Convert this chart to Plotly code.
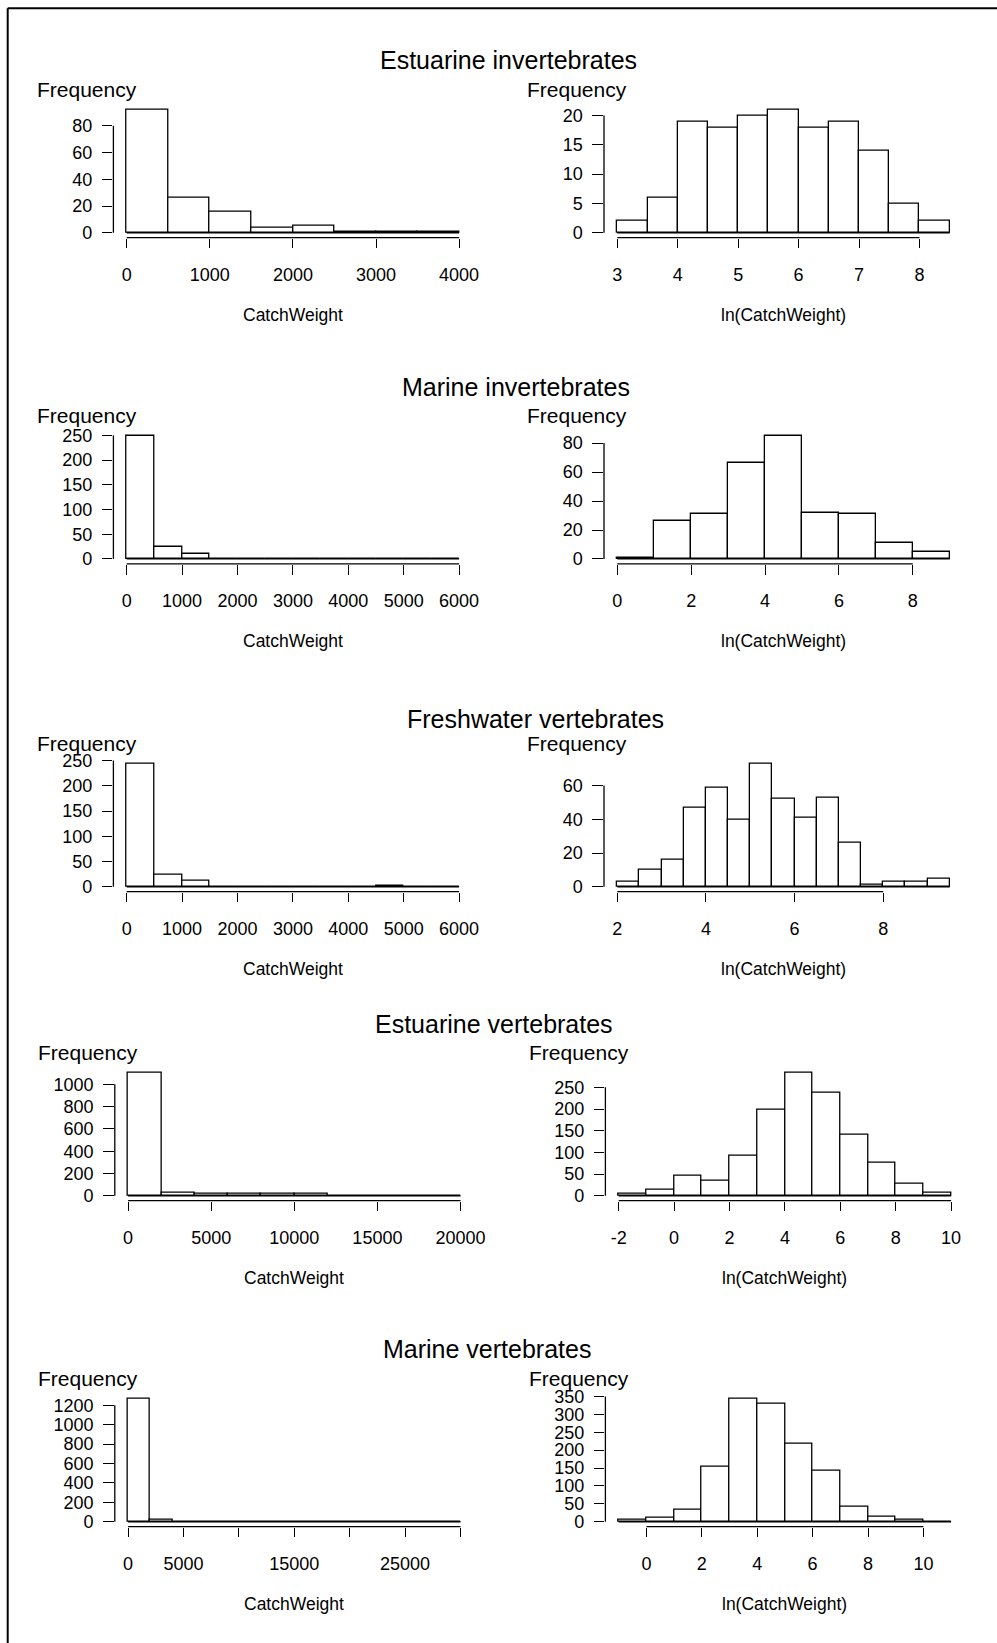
import plotly.graph_objects as go

# ---------------- data ----------------
titles = ["Estuarine invertebrates", "Marine invertebrates", "Freshwater vertebrates",
          "Estuarine vertebrates", "Marine vertebrates"]

# raw CatchWeight histograms (bin breaks and counts)
raw_breaks = [
    [0, 500, 1000, 1500, 2000, 2500, 3000, 3500, 4000],
    [0, 500, 1000, 1500, 2000, 2500, 3000, 3500, 4000, 4500, 5000, 5500, 6000],
    [0, 500, 1000, 1500, 2000, 2500, 3000, 3500, 4000, 4500, 5000, 5500, 6000],
    [0, 2000, 4000, 6000, 8000, 10000, 12000, 14000, 16000, 18000, 20000],
    [0, 2000, 4000, 6000, 8000, 10000, 12000, 14000, 16000, 18000, 20000,
     22000, 24000, 26000, 28000, 30000],
]
raw_counts = [
    [92, 26, 16, 4, 5, 1, 1, 1],
    [249, 24, 11, 1, 0, 0, 0, 0, 0, 0, 0, 1],
    [244, 24, 13, 0, 0, 0, 0, 0, 0, 3, 0, 0],
    [1105, 30, 15, 15, 15, 15, 2, 2, 1, 1],
    [1268, 21, 2, 1, 1, 0, 0, 0, 0, 0, 0, 0, 0, 0, 1],
]
raw_xticks = [
    [0, 1000, 2000, 3000, 4000],
    [0, 1000, 2000, 3000, 4000, 5000, 6000],
    [0, 1000, 2000, 3000, 4000, 5000, 6000],
    [0, 5000, 10000, 15000, 20000],
    [0, 5000, 10000, 15000, 20000, 25000, 30000],
]
raw_xticklabels = [
    ["0", "1000", "2000", "3000", "4000"],
    ["0", "1000", "2000", "3000", "4000", "5000", "6000"],
    ["0", "1000", "2000", "3000", "4000", "5000", "6000"],
    ["0", "5000", "10000", "15000", "20000"],
    ["0", "5000", "", "15000", "", "25000", ""],
]
raw_yticks = [
    [0, 20, 40, 60, 80],
    [0, 50, 100, 150, 200, 250],
    [0, 50, 100, 150, 200, 250],
    [0, 200, 400, 600, 800, 1000],
    [0, 200, 400, 600, 800, 1000, 1200],
]

# ln(CatchWeight) histograms
log_breaks = [
    [3, 3.5, 4, 4.5, 5, 5.5, 6, 6.5, 7, 7.5, 8, 8.5],
    [0, 1, 2, 3, 4, 5, 6, 7, 8, 9],
    [2, 2.5, 3, 3.5, 4, 4.5, 5, 5.5, 6, 6.5, 7, 7.5, 8, 8.5, 9, 9.5],
    [-2, -1, 0, 1, 2, 3, 4, 5, 6, 7, 8, 9, 10],
    [-1, 0, 1, 2, 3, 4, 5, 6, 7, 8, 9, 10, 11],
]
log_counts = [
    [2, 6, 19, 18, 20, 21, 18, 19, 14, 5, 2],
    [1, 26, 31, 66, 85, 32, 31, 11, 5],
    [3, 10, 16, 47, 59, 40, 73, 52, 41, 53, 26, 1, 3, 3, 5],
    [4, 15, 47, 34, 92, 199, 284, 238, 142, 77, 27, 8],
    [5, 10, 34, 153, 344, 330, 218, 142, 43, 15, 5, 1],
]
log_xticks = [
    [3, 4, 5, 6, 7, 8],
    [0, 2, 4, 6, 8],
    [2, 4, 6, 8],
    [-2, 0, 2, 4, 6, 8, 10],
    [0, 2, 4, 6, 8, 10],
]
log_yticks = [
    [0, 5, 10, 15, 20],
    [0, 20, 40, 60, 80],
    [0, 20, 40, 60],
    [0, 50, 100, 150, 200, 250],
    [0, 50, 100, 150, 200, 250, 300, 350],
]

raw_xlabel = "CatchWeight"
log_xlabel = "ln(CatchWeight)"
ylabel = "Frequency"

# ---------------- layout constants (pixels) ----------------
W, H = 997, 1643
row_bottom = [237.7, 563.9, 891.7, 1200.7, 1526.7]
row_shift = [0, 0, 0, 1.4, 1.4]
col_left = [113.4, 604.0]
plot_w, plot_h = 359.0, 133.0
title_pos = [(508.7, 60), (515.7, 386.7), (535.7, 719.3), (494.0, 1024.0), (487.3, 1349.3)]
FONT = "Liberation Sans, Arial, Helvetica, sans-serif"
LW = 1.3

fig = go.Figure()
shapes = []
annotations = []
layout_axes = {}


def add_panel(n, breaks, counts, xticks, xticklabels, yticks, row, col, xlabel):
    xs = "x" if n == 1 else f"x{n}"
    ys = "y" if n == 1 else f"y{n}"
    left = col_left[col] + row_shift[row]
    bottom = row_bottom[row]
    dom_x = [left / W, (left + plot_w) / W]
    dom_y = [1 - bottom / H, 1 - (bottom - plot_h) / H]
    lo, hi = breaks[0], breaks[-1]
    ext = 0.04 * (hi - lo)
    ymax = max(counts)
    centers = [(a + b) / 2 for a, b in zip(breaks[:-1], breaks[1:])]
    widths = [b - a for a, b in zip(breaks[:-1], breaks[1:])]
    fig.add_trace(go.Bar(
        x=centers, y=counts, width=widths, xaxis=xs, yaxis=ys,
        marker=dict(color="white", line=dict(color="black", width=LW)),
        showlegend=False, hoverinfo="x+y"))
    layout_axes["xaxis" if n == 1 else f"xaxis{n}"] = dict(
        domain=dom_x, anchor=ys, range=[lo - ext, hi + ext], automargin=False,
        tickmode="array", tickvals=xticks, ticktext=xticklabels,
        ticks="outside", ticklen=9.6, tickwidth=LW, tickcolor="black",
        showline=False, showgrid=False, zeroline=False,
        tickfont=dict(family=FONT, size=18, color="black"),
        ticklabelstandoff=11, fixedrange=True)
    layout_axes["yaxis" if n == 1 else f"yaxis{n}"] = dict(
        domain=dom_y, anchor=xs, range=[-0.04 * ymax, 1.04 * ymax], automargin=False,
        tickmode="array", tickvals=yticks, ticktext=[str(v) for v in yticks],
        ticks="outside", ticklen=10.6, tickwidth=LW, tickcolor="black",
        showline=False, showgrid=False, zeroline=False,
        tickfont=dict(family=FONT, size=18, color="black"),
        ticklabelstandoff=6, fixedrange=True)
    # axis lines spanning first to last tick (R style)
    shapes.append(dict(type="line", xref=xs, yref=f"{ys} domain",
                       x0=xticks[0], x1=xticks[-1], y0=0, y1=0,
                       line=dict(color="black", width=LW)))
    shapes.append(dict(type="line", xref=f"{xs} domain", yref=ys,
                       x0=0, x1=0, y0=yticks[0], y1=yticks[-1],
                       line=dict(color="black", width=LW)))
    # zero-height bin outlines
    shapes.append(dict(type="line", xref=xs, yref=ys, x0=lo, x1=hi, y0=0, y1=0,
                       line=dict(color="black", width=LW)))
    annotations.append(dict(text=ylabel, xref="paper", yref="paper",
                            x=(left - 26.7) / W, y=1 - (bottom - 148) / H,
                            xanchor="center", yanchor="middle", showarrow=False,
                            font=dict(family=FONT, size=21, color="black")))
    annotations.append(dict(text=xlabel, xref="paper", yref="paper",
                            x=(left + plot_w / 2) / W, y=1 - (bottom + 77.3) / H,
                            xanchor="center", yanchor="middle", showarrow=False,
                            font=dict(family=FONT, size=17.5, color="black")))


n = 1
for r in range(5):
    add_panel(n, raw_breaks[r], raw_counts[r], raw_xticks[r], raw_xticklabels[r],
              raw_yticks[r], r, 0, raw_xlabel)
    n += 1
    add_panel(n, log_breaks[r], log_counts[r], log_xticks[r],
              [str(v) for v in log_xticks[r]], log_yticks[r], r, 1, log_xlabel)
    n += 1
    tx, ty = title_pos[r]
    annotations.append(dict(text=titles[r], xref="paper", yref="paper",
                            x=tx / W, y=1 - ty / H, xanchor="center", yanchor="middle",
                            showarrow=False, font=dict(family=FONT, size=25, color="black")))

# outer frame (left and top edges)
shapes.append(dict(type="line", xref="paper", yref="paper",
                   x0=7.7 / W, x1=7.7 / W, y0=0, y1=1 - 8.3 / H,
                   line=dict(color="black", width=2)))
shapes.append(dict(type="line", xref="paper", yref="paper",
                   x0=7.7 / W, x1=1, y0=1 - 8.3 / H, y1=1 - 8.3 / H,
                   line=dict(color="black", width=2)))

fig.update_layout(
    width=W, height=H, margin=dict(l=0, r=0, t=0, b=0, pad=0, autoexpand=False),
    paper_bgcolor="white", plot_bgcolor="white",
    showlegend=False, bargap=0,
    shapes=shapes, annotations=annotations,
    **layout_axes)

fig.write_html("out.html", config={"displayModeBar": False},
               post_script="document.body.style.margin='0';document.body.style.padding='0';")
